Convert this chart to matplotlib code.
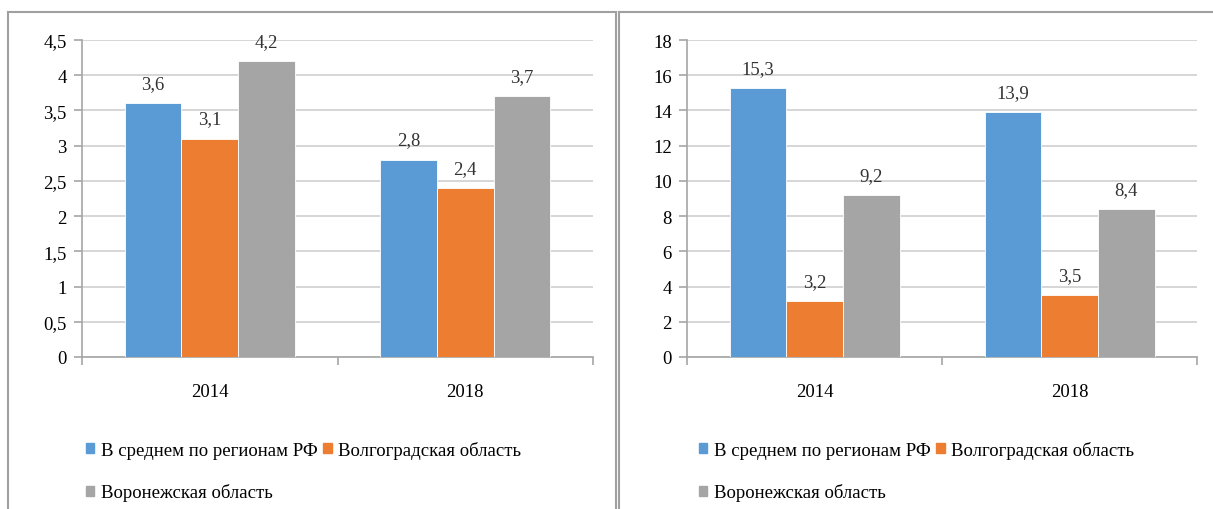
"""
Grouped bar charts: 2014 vs 2018, RF average vs Volgograd and Voronezh regions
"""

import matplotlib
matplotlib.use('Agg')
import matplotlib.pyplot as plt
from matplotlib.lines import Line2D
from matplotlib.patches import Patch

plt.rcParams['font.family'] = ['Liberation Serif', 'DejaVu Serif']

years = ['2014', '2018']
series_names = ['В среднем по регионам РФ', 'Волгоградская область', 'Воронежская область']
colors = ['#5b9bd5', '#ed7d31', '#a5a5a5']

# left chart
left_avg = [3.6, 2.8]
left_volg = [3.1, 2.4]
left_vor = [4.2, 3.7]
left_ticks = [0, 0.5, 1, 1.5, 2, 2.5, 3, 3.5, 4, 4.5]

# right chart
right_avg = [15.3, 13.9]
right_volg = [3.2, 3.5]
right_vor = [9.2, 8.4]
right_ticks = [0, 2, 4, 6, 8, 10, 12, 14, 16, 18]

W, H = 1213, 510
FS = 13.5
GRID = '#d0d0d0'
AXIS = '#a6a6a6'
BORDER = '#a0a0a0'


def fx(px):
    return px / W


def fy(py):
    return 1 - py / H


def fmt(v):
    s = f'{v:g}'
    return s.replace('.', ',')


def draw_chart(ax, values, yticks, label_off):
    n = len(values)
    width = 1 / 4.5
    for i, (vals, c) in enumerate(zip(values, colors)):
        xs = [k + (i - (n - 1) / 2) * width for k in range(len(years))]
        ax.bar(xs, vals, width=width, color=c, edgecolor='white', linewidth=0.6, zorder=3)
        for x, v in zip(xs, vals):
            ax.text(x, v + label_off, fmt(v), ha='center', va='center', fontsize=FS, color='#333333')

    ax.set_xlim(-0.5, len(years) - 0.5)
    ax.set_ylim(yticks[0], yticks[-1])
    ax.set_yticks(yticks)
    ax.set_yticklabels([fmt(t) for t in yticks], fontsize=FS)
    ax.yaxis.grid(True, color=GRID, linewidth=1.2, zorder=0)
    ax.set_axisbelow(True)

    # category boundaries as major ticks, labels on minor ticks
    ax.set_xticks([k - 0.5 for k in range(len(years) + 1)])
    ax.set_xticklabels([])
    ax.set_xticks(range(len(years)), minor=True)
    ax.set_xticklabels(years, minor=True, fontsize=FS)
    ax.tick_params(axis='x', which='major', length=6, color=AXIS, width=1.2)
    ax.tick_params(axis='x', which='minor', length=0, pad=19)
    ax.tick_params(axis='y', length=6, color=AXIS, width=1.2, pad=5)

    for s in ['top', 'right']:
        ax.spines[s].set_visible(False)
    for s in ['left', 'bottom']:
        ax.spines[s].set_color(AXIS)
        ax.spines[s].set_linewidth(1.2)


fig = plt.figure(figsize=(W / 100, H / 100), dpi=100)

ax1 = fig.add_axes([fx(82), fy(358), fx(593) - fx(82), fy(41) - fy(358)])
draw_chart(ax1, [left_avg, left_volg, left_vor], left_ticks, 0.28)

ax2 = fig.add_axes([fx(687), fy(358), fx(1197) - fx(687), fy(41) - fy(358)])
draw_chart(ax2, [right_avg, right_volg, right_vor], right_ticks, 1.1)

# legends: order so that the third entry wraps to the second row
handles = [Patch(color=c) for c in colors]
order = [0, 2, 1]
for x0 in [86, 699]:
    fig.legend([handles[i] for i in order], [series_names[i] for i in order],
               ncol=2, loc='upper left', bbox_to_anchor=(fx(x0), fy(442)),
               frameon=False, fontsize=FS, handlelength=0.45, handleheight=0.45,
               handletextpad=0.35, columnspacing=0.3, labelspacing=1.3,
               borderaxespad=0, borderpad=0)

# panel borders
lines = [
    ([8, 8], [13, 510]),
    ([8, 616], [13, 13]),
    ([616, 616], [13, 510]),
    ([619, 619], [13, 510]),
    ([619, 1213], [13, 13]),
]
for xs, ys in lines:
    fig.add_artist(Line2D([fx(x) for x in xs], [fy(y) for y in ys],
                          transform=fig.transFigure, color=BORDER, linewidth=1.5))

plt.savefig('out.png', dpi=100)
